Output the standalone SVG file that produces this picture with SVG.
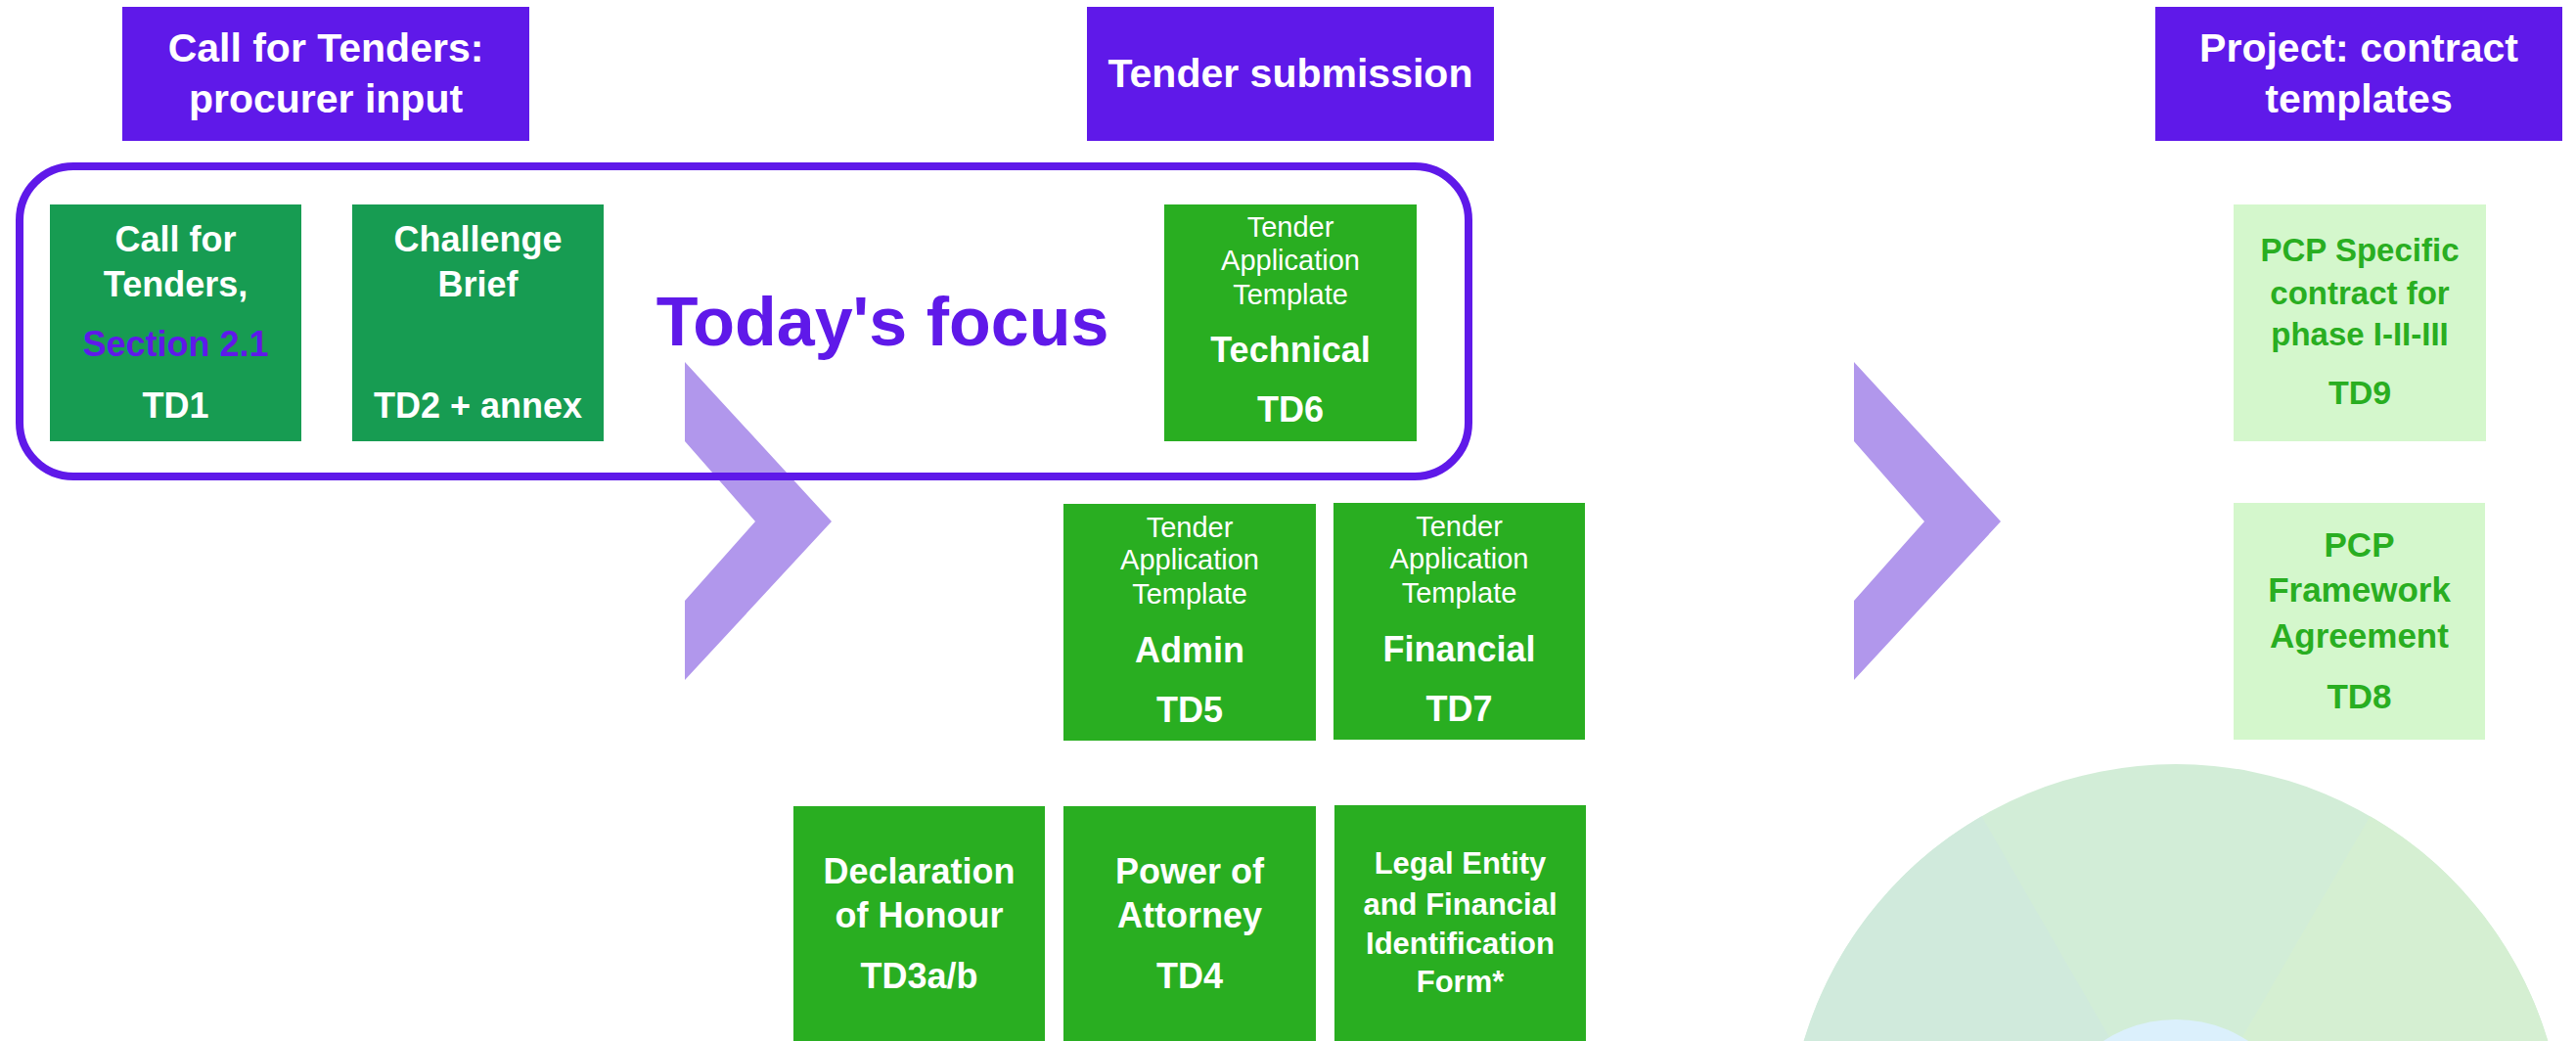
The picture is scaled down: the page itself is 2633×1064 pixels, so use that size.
<svg xmlns="http://www.w3.org/2000/svg" width="2633" height="1064" viewBox="0 0 2633 1064">
<style>
text{font-family:"Liberation Sans",Arial,sans-serif;text-anchor:middle}
.hdr{fill:#5F19E9}
.hdrt{fill:#fff;font-weight:bold;font-size:41px}
.dk{fill:#179C52}
.br{fill:#29AE21}
.lt{fill:#D4F7CC}
.w{fill:#fff}
.b{font-weight:bold;font-size:36px}
.s{font-size:29px}
.g{fill:#29AE21;font-weight:bold}
.chev{fill:#B197EC}
</style>
<rect width="2633" height="1064" fill="#fff"/>
<g id="wheel">
<circle cx="2224" cy="1178" r="397" fill="#D2EDD7"/>
<path d="M2224 1178 L2025.5 834.2 A397 397 0 0 0 1880.2 1376.5 Z" fill="#D0EADC"/>
<path d="M2224 1178 L2422.5 834.2 A397 397 0 0 1 2567.8 1376.5 Z" fill="#D5EFD2"/>
<circle cx="2224" cy="1178" r="136" fill="#DBF0FC"/>
</g>
<g id="connectors">
<polygon class="chev" points="700,370 850,533 700,695 700,614 772,533 700,451"/>
<polygon class="chev" points="1895,370 2045,533 1895,695 1895,614 1967,533 1895,451"/>
</g>
<g id="focus">
<rect x="20" y="170" width="1481" height="317" rx="55" ry="55" fill="none" stroke="#5F19E9" stroke-width="8"/>
<text x="902" y="353" style="font-weight:bold;font-size:70px;fill:#5F19E9">Today's focus</text>
</g>
<g id="hdr1">
<rect class="hdr" x="125" y="7" width="416" height="137"/>
<text class="hdrt" x="333" y="63">Call for Tenders:</text>
<text class="hdrt" x="333" y="115">procurer input</text>
</g>
<g id="hdr2">
<rect class="hdr" x="1111" y="7" width="416" height="137"/>
<text class="hdrt" x="1319" y="89">Tender submission</text>
</g>
<g id="hdr3">
<rect class="hdr" x="2203" y="7" width="416" height="137"/>
<text class="hdrt" x="2411" y="63">Project: contract</text>
<text class="hdrt" x="2411" y="115">templates</text>
</g>
<g id="td1">
<rect class="dk" x="51" y="209" width="257" height="242"/>
<text class="w b" x="179.5" y="257">Call for</text>
<text class="w b" x="179.5" y="303">Tenders,</text>
<text class="b" x="179.5" y="364" fill="#5F19E9">Section 2.1</text>
<text class="w b" x="179.5" y="427">TD1</text>
</g>
<g id="td2">
<rect class="dk" x="360" y="209" width="257" height="242"/>
<text class="w b" x="488.5" y="257">Challenge</text>
<text class="w b" x="488.5" y="303">Brief</text>
<text class="w b" x="488.5" y="427">TD2 + annex</text>
</g>
<g id="td6">
<rect class="br" x="1190" y="209" width="258" height="242"/>
<text class="w s" x="1319" y="242">Tender</text>
<text class="w s" x="1319" y="276">Application</text>
<text class="w s" x="1319" y="311">Template</text>
<text class="w b" x="1319" y="370">Technical</text>
<text class="w b" x="1319" y="431">TD6</text>
</g>
<g id="td5">
<rect class="br" x="1087" y="515" width="258" height="242"/>
<text class="w s" x="1216" y="549">Tender</text>
<text class="w s" x="1216" y="582">Application</text>
<text class="w s" x="1216" y="617">Template</text>
<text class="w b" x="1216" y="677">Admin</text>
<text class="w b" x="1216" y="738">TD5</text>
</g>
<g id="td7">
<rect class="br" x="1363" y="514" width="257" height="242"/>
<text class="w s" x="1491.5" y="548">Tender</text>
<text class="w s" x="1491.5" y="581">Application</text>
<text class="w s" x="1491.5" y="616">Template</text>
<text class="w b" x="1491.5" y="676">Financial</text>
<text class="w b" x="1491.5" y="737">TD7</text>
</g>
<g id="td3">
<rect class="br" x="811" y="824" width="257" height="240"/>
<text class="w b" x="939.5" y="903">Declaration</text>
<text class="w b" x="939.5" y="948">of Honour</text>
<text class="w b" x="939.5" y="1010">TD3a/b</text>
</g>
<g id="td4">
<rect class="br" x="1087" y="824" width="258" height="240"/>
<text class="w b" x="1216" y="903">Power of</text>
<text class="w b" x="1216" y="948">Attorney</text>
<text class="w b" x="1216" y="1010">TD4</text>
</g>
<g id="lef">
<rect class="br" x="1364" y="823" width="257" height="241"/>
<text class="w" x="1492.5" y="893" style="font-weight:bold;font-size:31px">Legal Entity</text>
<text class="w" x="1492.5" y="935" style="font-weight:bold;font-size:31px">and Financial</text>
<text class="w" x="1492.5" y="975" style="font-weight:bold;font-size:31px">Identification</text>
<text class="w" x="1492.5" y="1014" style="font-weight:bold;font-size:31px">Form*</text>
</g>
<g id="td9">
<rect class="lt" x="2283" y="209" width="258" height="242"/>
<text class="g" x="2412" y="267" font-size="33">PCP Specific</text>
<text class="g" x="2412" y="311" font-size="33">contract for</text>
<text class="g" x="2412" y="353" font-size="33">phase I-II-III</text>
<text class="g" x="2412" y="413" font-size="34">TD9</text>
</g>
<g id="td8">
<rect class="lt" x="2283" y="514" width="257" height="242"/>
<text class="g" x="2411.5" y="569" font-size="35">PCP</text>
<text class="g" x="2411.5" y="615" font-size="35">Framework</text>
<text class="g" x="2411.5" y="662" font-size="35">Agreement</text>
<text class="g" x="2411.5" y="724" font-size="35">TD8</text>
</g>
</svg>
